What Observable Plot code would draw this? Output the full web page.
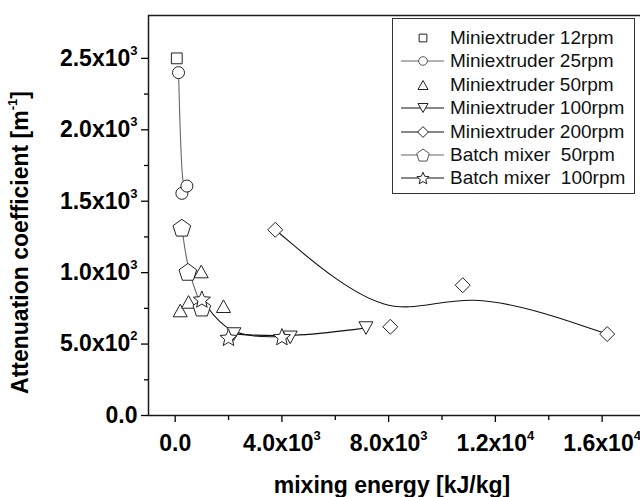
<!DOCTYPE html>
<html><head><meta charset="utf-8">
<script src="https://cdn.jsdelivr.net/npm/d3@7"></script>
<script src="https://cdn.jsdelivr.net/npm/@observablehq/plot@0.6"></script>
<style>
html,body{margin:0;padding:0;overflow:hidden;background:#fff;width:640px;height:497px}
#wrap{position:relative;width:640px;height:497px;overflow:hidden}
#wrap > svg{max-width:none !important;position:absolute;left:0;top:0}
#legend{position:absolute;left:392px;top:18px;width:241px;height:174px;border:1px solid #333;background:#fff;font-family:"Liberation Sans",Arial,sans-serif;font-size:19px;color:#111}
</style></head><body><div id="wrap"><div id="legend"></div></div>
<script>
// ---- data ----
const seriesNames = ["Miniextruder 12rpm","Miniextruder 25rpm","Miniextruder 50rpm","Miniextruder 100rpm","Miniextruder 200rpm","Batch mixer  50rpm","Batch mixer  100rpm"];
const m12x = [60], m12y = [2500];
const m25x = [125, 251, 439], m25y = [2400, 1555, 1606];
const m50x = [190, 500, 975, 1810], m50y = [735, 795, 1008, 765];
const m100x = [2200, 4310, 7150], m100y = [570, 547, 612];
const m200x = [3750, 8062, 10775, 16190], m200y = [1300, 621, 912, 570];
const b50x = [250, 475, 1000], b50y = [1315, 1006, 756];
const b100x = [1000, 2000, 4000], b100y = [815, 547, 552];

const yMajor = [0, 500, 1000, 1500, 2000, 2500];
const yMinor = [250, 750, 1250, 1750, 2250];
const yLabels = ["0.0", "5.0x10^2", "1.0x10^3", "1.5x10^3", "2.0x10^3", "2.5x10^3"];
const xMajor = [0, 4000, 8000, 12000, 16000];
const xMinor = [2000, 6000, 10000, 14000];
const xLabels = ["0.0", "4.0x10^3", "8.0x10^3", "1.2x10^4", "1.6x10^4"];
const xTitle = "mixing energy [kJ/kg]";
const yTitle = "Attenuation coefficient [m^-1]";

// ---- symbols ----
const R = s => Math.sqrt(s / Math.PI);
const symSquare = {draw(c, s){const r = R(s) * 0.9; c.rect(-r, -r, 2*r, 2*r);}};
const symCircle = {draw(c, s){const r = R(s); c.moveTo(r, 0); c.arc(0, 0, r, 0, 2*Math.PI);}};
const symTriUp = {draw(c, s){const r = R(s), w = 1.17*r, h = 2.1*r; c.moveTo(0, -h/2); c.lineTo(w, h/2); c.lineTo(-w, h/2); c.closePath();}};
const symTriDown = {draw(c, s){const r = R(s), w = 1.17*r, h = 2.1*r; c.moveTo(0, h/2); c.lineTo(w, -h/2); c.lineTo(-w, -h/2); c.closePath();}};
const symDiamond = {draw(c, s){const d = R(s) * 1.25; c.moveTo(0, -d); c.lineTo(d, 0); c.lineTo(0, d); c.lineTo(-d, 0); c.closePath();}};
const symPentagon = {draw(c, s){const q = R(s) * 1.55; for (let k = 0; k < 5; k++){const a = -Math.PI/2 + k*2*Math.PI/5; const px = q*Math.cos(a), py = q*Math.sin(a) + q*0.1; k ? c.lineTo(px, py) : c.moveTo(px, py);} c.closePath();}};
const symStar = {draw(c, s){const o = R(s) * 1.5, inn = o * 0.45; for (let k = 0; k < 10; k++){const a = -Math.PI/2 + k*Math.PI/5; const rr = k % 2 ? inn : o; const px = rr*Math.cos(a), py = rr*Math.sin(a) + o*0.1; k ? c.lineTo(px, py) : c.moveTo(px, py);} c.closePath();}};

const table = (xs, ys) => xs.map((x, i) => ({x, y: ys[i]}));
const series = [
  {name: seriesNames[0], data: table(m12x, m12y), sym: symSquare, line: null},
  {name: seriesNames[1], data: table(m25x, m25y), sym: symCircle, line: "#666"},
  {name: seriesNames[2], data: table(m50x, m50y), sym: symTriUp, line: null},
  {name: seriesNames[3], data: table(m100x, m100y), sym: symTriDown, line: "#111"},
  {name: seriesNames[4], data: table(m200x, m200y), sym: symDiamond, line: "#111"},
  {name: seriesNames[5], data: table(b50x, b50y), sym: symPentagon, line: "#666"},
  {name: seriesNames[6], data: table(b100x, b100y), sym: symStar, line: "#111"}
];
const yLab = new Map(yMajor.map((v, i) => [v, yLabels[i]]));
const xLab = new Map(xMajor.map((v, i) => [v, xLabels[i]]));

const lineMarks = series.filter(s => s.line).map(s => Plot.line(s.data, {x: "x", y: "y", curve: "basis", stroke: s.line, strokeWidth: 1.1}));
const dotMarks = series.map(s => Plot.dot(s.data, {x: "x", y: "y", symbol: s.sym, r: 6, stroke: "#222", strokeWidth: 1, fill: "white"}));

const chart = Plot.plot({
  width: 680, height: 497,
  marginLeft: 148, marginRight: 25, marginTop: 15, marginBottom: 82,
  x: {domain: [-1000, 18000]},
  y: {domain: [0, 2800]},
  style: {fontFamily: "'Liberation Sans', Arial, sans-serif", background: "#fff", color: "#000", maxWidth: "none"},
  marks: [
    Plot.axisY({ticks: yMinor, tickSize: 4, tickFormat: () => "", label: null, strokeWidth: 1.3}),
    Plot.axisY({ticks: yMajor, tickSize: 7, tickPadding: 4, tickFormat: d => yLab.get(d), label: null, fontSize: 23, fontWeight: "bold", strokeWidth: 1.3}),
    Plot.axisX({ticks: xMinor, tickSize: 5, tickFormat: () => "", label: null, strokeWidth: 1.3}),
    Plot.axisX({ticks: xMajor, tickSize: 7, tickPadding: 12, tickFormat: d => xLab.get(d), label: null, fontSize: 23, fontWeight: "bold", strokeWidth: 1.3}),
    ...lineMarks,
    ...dotMarks,
    Plot.frame({stroke: "#1a1a1a", strokeWidth: 1.5}),
    Plot.text([xTitle], {text: d => d, frameAnchor: "bottom", textAnchor: "middle", lineAnchor: "middle", dx: -10, dy: 70, fontSize: 23, fontWeight: "bold"}),
    Plot.text([yTitle], {text: d => d, frameAnchor: "left", textAnchor: "middle", lineAnchor: "middle", rotate: -90, dx: -128, dy: 27, fontSize: 23, fontWeight: "bold"})
  ]
});

// superscripts
d3.select(chart).selectAll("text").each(function() {
  const t = this.textContent;
  if (!t.includes("^")) return;
  const parts = t.split(/\^(-?\d+)/);
  this.textContent = "";
  parts.forEach((p, i) => {
    if (!p) return;
    const ts = d3.select(this).append("tspan").text(p);
    if (i % 2 === 1) ts.attr("dy", -11).attr("font-size", 13);
    else if (i > 0) ts.attr("dy", 11);
  });
});

const wrap = document.getElementById("wrap");
wrap.insertBefore(chart, wrap.firstChild);

// legend
const legend = document.getElementById("legend");
series.forEach((s, i) => {
  const row = document.createElement("div");
  row.style.cssText = `position:absolute;left:0;top:${7 + i * 23.4}px;height:24px;width:240px;`;
  const svg = d3.create("svg").attr("width", 60).attr("height", 24).style("position", "absolute").style("left", "0").style("top", "0");
  if (s.line) svg.append("line").attr("x1", 8).attr("x2", 51).attr("y1", 12).attr("y2", 12).attr("stroke", s.line).attr("stroke-width", 1.1);
  const p = d3.path(); s.sym.draw(p, Math.PI * 4.3 * 4.3);
  svg.append("path").attr("d", p.toString()).attr("transform", "translate(30,12)").attr("fill", "white").attr("stroke", s.line === "#666" ? "#555" : "#222").attr("stroke-width", 1);
  row.appendChild(svg.node());
  const lab = document.createElement("span");
  lab.textContent = s.name;
  lab.style.cssText = "position:absolute;left:57px;top:0;line-height:24px;white-space:pre;";
  row.appendChild(lab);
  legend.appendChild(row);
});
</script></body></html>
